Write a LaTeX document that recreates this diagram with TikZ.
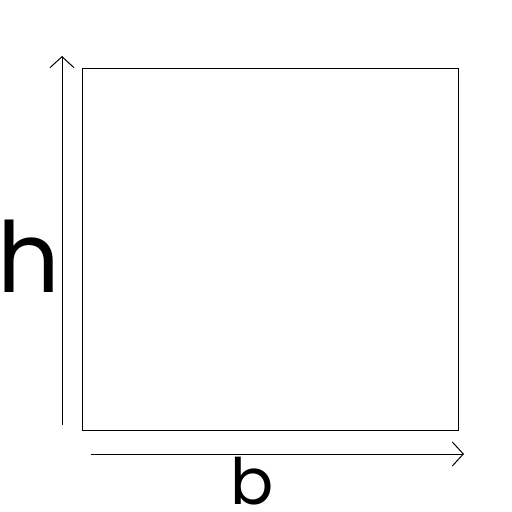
\documentclass[tikz,border=0pt]{standalone}
\usepackage{fontspec}
\setmainfont{Poppins}
\usetikzlibrary{arrows.meta}

\begin{document}
\begin{tikzpicture}[x=1pt,y=-1pt,
  dim/.style={-{Straight Barb[length=11pt,width=24pt,line width=1pt]}, line width=0.9pt}]

\useasboundingbox (0,0) rectangle (512,512);

% Section
\draw[line width=0.9pt] (82,68) rectangle (458,430);

% Dimension arrows
\coordinate (h0) at (62,425);
\coordinate (h1) at (62,56);
\coordinate (b0) at (91,454);
\coordinate (b1) at (464,454);
\draw[dim] (h0) -- (h1);
\draw[dim] (b0) -- (b1);

% Labels
\node[anchor=base, inner sep=0pt, font=\fontsize{98}{104}\selectfont] (hlab) at (29,292) {h};
\node[anchor=base, inner sep=0pt, font=\fontsize{64}{70}\selectfont] (blab) at (252,504) {b};

\end{tikzpicture}
\end{document}
